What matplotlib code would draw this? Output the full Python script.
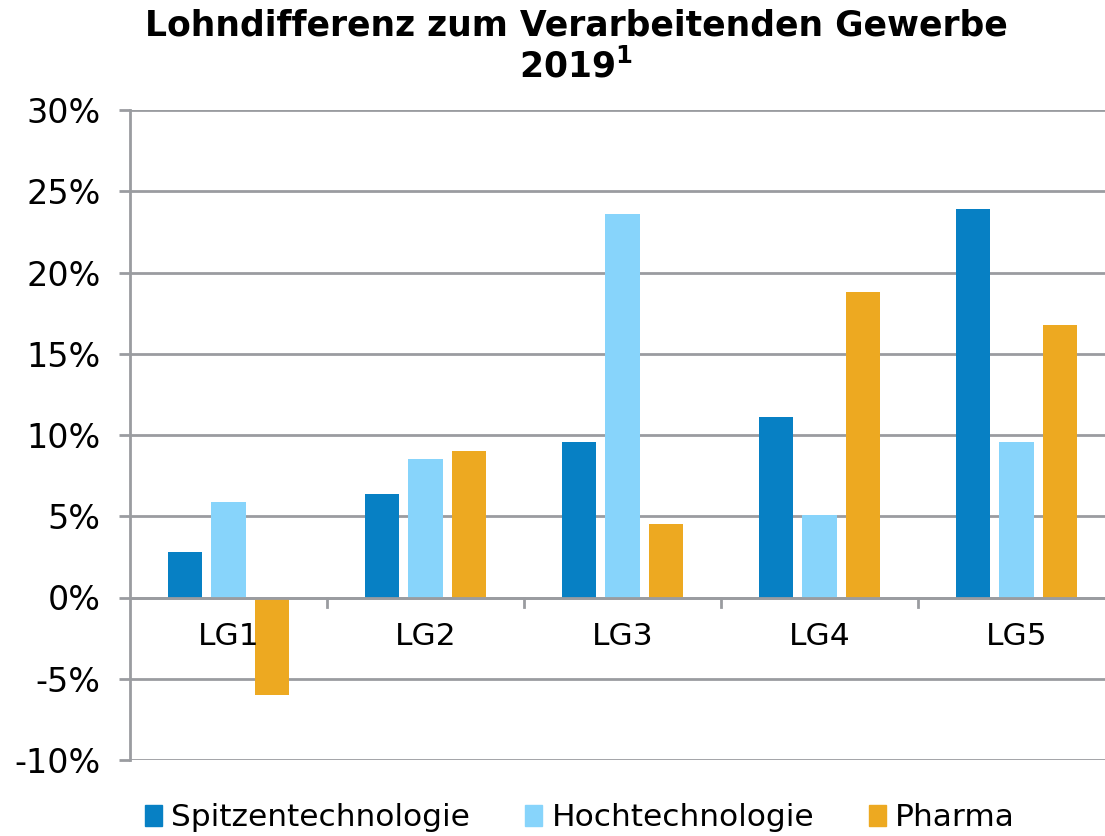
import matplotlib.pyplot as plt
from matplotlib.patches import Patch
import numpy as np

# ---- data ----
groups = ['LG1', 'LG2', 'LG3', 'LG4', 'LG5']
spitzen = [2.8, 6.4, 9.6, 11.1, 23.9]
hoch = [5.9, 8.5, 23.6, 5.1, 9.6]
pharma = [-6.0, 9.0, 4.5, 18.8, 16.8]
series_names = ['Spitzentechnologie', 'Hochtechnologie', 'Pharma']
colors = ['#0780C4', '#87D4FB', '#EDA921']
yticks = [-10, -5, 0, 5, 10, 15, 20, 25, 30]

grid_col = '#9a9ca0'

fig = plt.figure(figsize=(11.05, 8.36), dpi=100)
ax = fig.add_axes([130 / 1105, 1 - 760 / 836, 985 / 1105, 650 / 836])

x = np.arange(len(groups))
w = 0.173
off = 0.22
for i, (vals, col) in enumerate(zip([spitzen, hoch, pharma], colors)):
    ax.bar(x + (i - 1) * off, vals, width=w, color=col, zorder=3)

ax.set_xlim(-0.5, len(groups) - 0.5)
ax.set_ylim(-10, 30)
ax.set_yticks(yticks)
ax.set_yticklabels([f'{t}%' for t in yticks], fontsize=24)
ax.yaxis.grid(True, color=grid_col, linewidth=2, zorder=0)
ax.tick_params(axis='y', length=8, width=2, color=grid_col, pad=13)

# category labels sit under the zero line
ax.set_xticks([])
for xi, g in zip(x, groups):
    ax.text(xi, -2.4, g, ha='center', va='center', fontsize=22.5)
ax.axhline(0, color=grid_col, linewidth=2, zorder=4)
for b in np.arange(0.5, len(groups) - 0.5, 1):
    ax.plot([b, b], [0, -0.6], color=grid_col, linewidth=2, zorder=4, clip_on=False)

for s in ['top', 'right', 'bottom']:
    ax.spines[s].set_visible(False)
ax.spines['left'].set_color(grid_col)
ax.spines['left'].set_linewidth(2)

fig.text(576 / 1105, 1 - 25 / 836, 'Lohndifferenz zum Verarbeitenden Gewerbe',
         ha='center', va='center', fontsize=24.9, fontweight='bold')
fig.text(576 / 1105, 1 - 66 / 836, r'2019$^{\mathbf{1}}$',
         ha='center', va='center', fontsize=24.9, fontweight='bold')

handles = [Patch(color=c) for c in colors]
fig.legend(handles, series_names, loc='center', bbox_to_anchor=(580 / 1105, 1 - 818 / 836),
           ncol=3, frameon=False, fontsize=22.5, handlelength=0.55, handleheight=0.65,
           handletextpad=0.3, columnspacing=1.75)

fig.savefig('out.png', dpi=100)
